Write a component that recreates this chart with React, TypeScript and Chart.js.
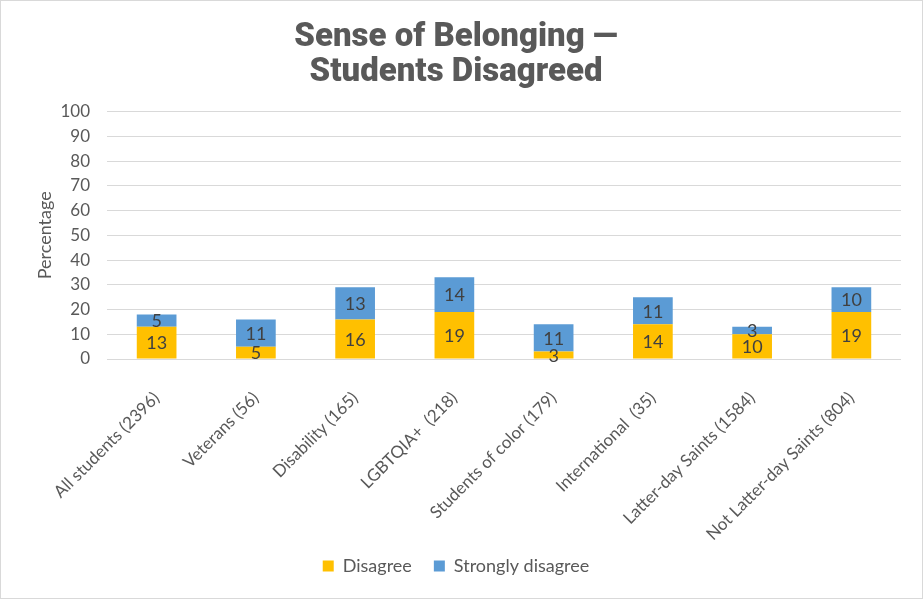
import React, { useEffect, useRef } from "react";
import { Chart, registerables } from "chart.js";

Chart.register(...registerables);

const categories = [
  "All students (2396)",
  "Veterans (56)",
  "Disability (165)",
  "LGBTQIA+  (218)",
  "Students of color (179)",
  "International  (35)",
  "Latter-day Saints (1584)",
  "Not Latter-day Saints (804)",
];
const disagree = [13, 5, 16, 19, 3, 14, 10, 19];
const stronglyDisagree = [5, 11, 13, 14, 11, 11, 3, 10];
const titleLines = ["Sense of Belonging \u2014", "Students Disagreed"];
const yTitle = "Percentage";

const labelPlugin = {
  id: "segmentLabels",
  beforeDraw(chart: any) {
    const xs = chart.scales.x;
    if (xs) xs._computeLabelArea = () => undefined;
  },
  afterDatasetsDraw(chart: any) {
    const ctx = chart.ctx;
    ctx.save();
    ctx.font = "18px Lato";
    ctx.fillStyle = "#404040";
    ctx.textAlign = "center";
    ctx.textBaseline = "middle";
    chart.data.datasets.forEach((ds: any, di: number) => {
      const meta = chart.getDatasetMeta(di);
      meta.data.forEach((el: any, i: number) => {
        const p = el.getProps(["x", "y", "base"], true);
        ctx.fillText(String(ds.data[i]), p.x, (p.y + p.base) / 2 + 1);
      });
    });
    ctx.restore();
  },
};

export default function App() {
  const ref = useRef<HTMLCanvasElement>(null);
  useEffect(() => {
    const chart = new Chart(ref.current!, {
      type: "bar",
      data: {
        labels: categories,
        datasets: [
          { label: "Disagree", data: disagree, backgroundColor: "#FFC000", barPercentage: 0.4, categoryPercentage: 1 },
          { label: "Strongly disagree", data: stronglyDisagree, backgroundColor: "#5B9BD5", barPercentage: 0.4, categoryPercentage: 1 },
        ],
      },
      options: {
        responsive: false,
        animation: false,
        layout: { padding: { left: 10, right: 21, top: 0, bottom: 13 } },
        plugins: {
          title: {
            display: true,
            text: titleLines,
            color: "#595959",
            font: { family: "Roboto", size: 33, weight: "900", lineHeight: 1.07 },
            padding: { top: 19, bottom: 21 },
          },
          legend: {
            position: "bottom",
            labels: {
              boxWidth: 11,
              boxHeight: 11,
              padding: 22,
              color: "#595959",
              font: { family: "Lato", size: 18 },
            },
          },
          tooltip: { enabled: false },
        },
        scales: {
          x: {
            stacked: true,
            grid: { display: false },
            border: { display: false },
            ticks: {
              minRotation: 45,
              maxRotation: 45,
              color: "#595959",
              font: { family: "Lato", size: 17 },
              padding: 21,
            },
            afterFit: (s: any) => {
              s.height = 176;
            },
          },
          y: {
            stacked: true,
            min: 0,
            max: 100,
            ticks: {
              stepSize: 10,
              color: "#595959",
              font: { family: "Lato", size: 17 },
              padding: 17,
            },
            grid: { color: "#d9d9d9", lineWidth: 1, drawTicks: false },
            border: { display: false },
            title: {
              display: true,
              text: yTitle,
              color: "#595959",
              font: { family: "Lato", size: 18 },
              padding: { top: 23, bottom: 0 },
            },
            afterFit: (s: any) => {
              s.width = 96;
            },
          },
        },
      },
      plugins: [labelPlugin],
    });
    return () => chart.destroy();
  }, []);
  return (
    <div
      style={{
        position: "fixed",
        left: 0,
        top: 0,
        width: 923,
        height: 599,
        boxSizing: "border-box",
        border: "1px solid #d9d9d9",
        background: "#fff",
      }}
    >
      <canvas ref={ref} width={921} height={597} style={{ display: "block" }} />
    </div>
  );
}
